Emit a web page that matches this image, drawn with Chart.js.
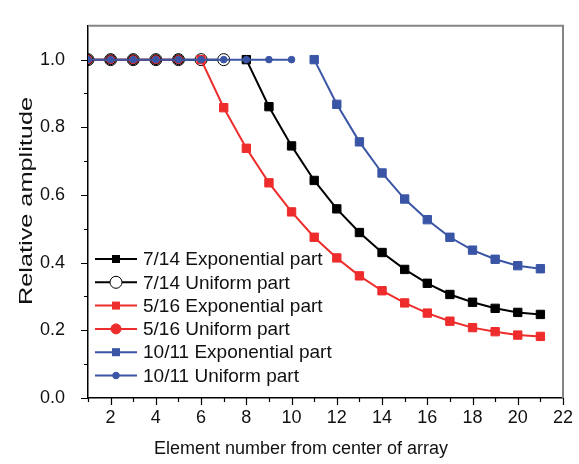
<!DOCTYPE html>
<html>
<head>
<meta charset="utf-8">
<script src="https://cdn.jsdelivr.net/npm/chart.js@4/dist/chart.umd.min.js"></script>
<style>
  body { margin: 0; background: #fff; }
  #wrap { width: 579px; height: 464px; }
</style>
</head>
<body>
<div id="wrap"><canvas id="ampChart" width="579" height="464"></canvas></div>
<script>
// element index (x) and relative amplitude (y) for each series
const uniform714X = [1, 2, 3, 4, 5, 6, 7]
const uniform714Y = [1, 1, 1, 1, 1, 1, 1]
const exp714X = [8, 9, 10, 11, 12, 13, 14, 15, 16, 17, 18, 19, 20, 21]
const exp714Y = [1.0, 0.861, 0.745, 0.643, 0.559, 0.489, 0.430, 0.380, 0.339, 0.306, 0.283, 0.265, 0.253, 0.247]

const uniform516X = [1, 2, 3, 4, 5]
const uniform516Y = [1, 1, 1, 1, 1]
const exp516X = [6, 7, 8, 9, 10, 11, 12, 13, 14, 15, 16, 17, 18, 19, 20, 21]
const exp516Y = [1.0, 0.858, 0.738, 0.636, 0.550, 0.475, 0.414, 0.361, 0.317, 0.281, 0.251, 0.227, 0.208, 0.196, 0.186, 0.182]

const uniform1011X = [1, 2, 3, 4, 5, 6, 7, 8, 9, 10]
const uniform1011Y = [1, 1, 1, 1, 1, 1, 1, 1, 1, 1]
const exp1011X = [11, 12, 13, 14, 15, 16, 17, 18, 19, 20, 21]
const exp1011Y = [1.0, 0.868, 0.757, 0.665, 0.588, 0.527, 0.475, 0.437, 0.410, 0.391, 0.382]

const xTicks = [2, 4, 6, 8, 10, 12, 14, 16, 18, 20, 22]
const xMinorTicks = [1, 3, 5, 7, 9, 11, 13, 15, 17, 19, 21]
const yTicks = [0, 0.2, 0.4, 0.6, 0.8, 1.0]
const yMinorTicks = [0.1, 0.3, 0.5, 0.7, 0.9]

const xTitle = 'Element number from center of array'
const yTitle = 'Relative amplitude'

const RED = '#ee2c2c'
const BLUE = '#3a55a5'
const FONT = 'Liberation Sans, Arial, sans-serif'

const pts = (xs, ys) => xs.map((x, i) => ({ x: x, y: ys[i] }))

const series = [
  { label: '7/14 Exponential part', data: pts(exp714X, exp714Y), color: '#000', style: 'rect', radius: 5.9, fill: '#000', order: 4 },
  { label: '7/14 Uniform part', data: pts(uniform714X, uniform714Y), color: '#000', style: 'circle', radius: 6, fill: '#fff', order: 5 },
  { label: '5/16 Exponential part', data: pts(exp516X, exp516Y), color: RED, style: 'rect', radius: 5.9, fill: RED, order: 3 },
  { label: '5/16 Uniform part', data: pts(uniform516X, uniform516Y), color: RED, style: 'circle', radius: 5, fill: RED, order: 2 },
  { label: '10/11 Exponential part', data: pts(exp1011X, exp1011Y), color: BLUE, style: 'rect', radius: 5.9, fill: BLUE, order: 1 },
  { label: '10/11 Uniform part', data: pts(uniform1011X, uniform1011Y), color: BLUE, style: 'circle', radius: 3.3, fill: BLUE, order: 0 }
]

// ticks, frame, axis titles and in-plot legend
const decor = {
  id: 'decor',
  afterDatasetsDraw(chart) {
    const ctx = chart.ctx
    const x = chart.scales.x, y = chart.scales.y
    const a = chart.chartArea
    ctx.save()
    // grey top/right frame
    ctx.strokeStyle = '#858585'
    ctx.lineWidth = 2
    ctx.beginPath()
    ctx.moveTo(a.left, a.top)
    ctx.lineTo(a.right, a.top)
    ctx.lineTo(a.right, a.bottom)
    ctx.stroke()
    // tick marks
    ctx.strokeStyle = '#000'
    ctx.lineWidth = 1.2
    ctx.beginPath()
    xTicks.forEach(v => { const p = Math.round(x.getPixelForValue(v)) + 0.5; ctx.moveTo(p, a.bottom); ctx.lineTo(p, a.bottom + 7) })
    xMinorTicks.forEach(v => { const p = Math.round(x.getPixelForValue(v)) + 0.5; ctx.moveTo(p, a.bottom); ctx.lineTo(p, a.bottom + 4) })
    yTicks.forEach(v => { const p = Math.round(y.getPixelForValue(v)) + 0.5; ctx.moveTo(a.left, p); ctx.lineTo(a.left - 7, p) })
    yMinorTicks.forEach(v => { const p = Math.round(y.getPixelForValue(v)) + 0.5; ctx.moveTo(a.left, p); ctx.lineTo(a.left - 4, p) })
    ctx.stroke()

    // axis titles
    ctx.fillStyle = '#111'
    ctx.font = '18px ' + FONT
    ctx.textAlign = 'center'
    ctx.textBaseline = 'middle'
    ctx.fillText(xTitle, 301, 449)
    ctx.save()
    ctx.translate(27, 201)
    ctx.rotate(-Math.PI / 2)
    const stretch = 208 / ctx.measureText(yTitle).width
    ctx.scale(stretch, 1)
    ctx.fillText(yTitle, 0, 0)
    ctx.restore()

    // legend
    const lx = a.left + 7, ly = 259, step = 23.3
    ctx.font = '19px ' + FONT
    ctx.textAlign = 'left'
    series.forEach((s, i) => {
      const cy = ly + i * step
      ctx.strokeStyle = s.color
      ctx.lineWidth = 2
      ctx.beginPath()
      ctx.moveTo(lx, cy)
      ctx.lineTo(lx + 42, cy)
      ctx.stroke()
      const cx = lx + 21
      ctx.fillStyle = s.fill
      ctx.lineWidth = 1
      if (s.style === 'rect') {
        ctx.fillRect(cx - 4, cy - 4, 8, 8)
      } else {
        ctx.beginPath()
        ctx.arc(cx, cy, s.radius, 0, Math.PI * 2)
        ctx.fill()
        ctx.stroke()
      }
      ctx.fillStyle = '#111'
      ctx.fillText(s.label, lx + 48, cy + 1)
    })
    ctx.restore()
  }
}

const ctx = document.getElementById('ampChart').getContext('2d')
new Chart(ctx, {
  type: 'line',
  data: {
    datasets: series.map(s => ({
      label: s.label,
      data: s.data,
      order: s.order,
      borderColor: s.color,
      backgroundColor: s.fill,
      borderWidth: 2,
      pointStyle: s.style,
      pointRadius: s.radius,
      pointHoverRadius: s.radius,
      pointBackgroundColor: s.fill,
      pointBorderColor: s.style === 'circle' && s.fill !== BLUE ? '#000' : s.color,
      pointBorderWidth: 1,
      tension: 0,
      fill: false
    }))
  },
  options: {
    responsive: false,
    animation: false,
    layout: { padding: { top: 8, right: 16, left: 0, bottom: 0 } },
    plugins: {
      legend: { display: false },
      tooltip: { enabled: false }
    },
    scales: {
      x: {
        type: 'linear',
        min: 1,
        max: 22,
        afterBuildTicks: (scale) => { scale.ticks = xTicks.map(v => ({ value: v })) },
        afterFit: (scale) => { scale.height = 66 },
        grid: { display: false },
        border: { display: true, color: '#000', width: 1.5 },
        ticks: { color: '#111', padding: 1, font: { family: FONT, size: 18 }, maxRotation: 0 },
        title: { display: false }
      },
      y: {
        min: 0,
        max: 1.1,
        afterBuildTicks: (scale) => { scale.ticks = yTicks.map(v => ({ value: v })) },
        afterFit: (scale) => { scale.width = 88 },
        grid: { display: false },
        border: { display: true, color: '#000', width: 1.5 },
        ticks: { color: '#111', padding: 15, font: { family: FONT, size: 18 }, callback: (v) => v.toFixed(1) },
        title: { display: false }
      }
    }
  },
  plugins: [decor]
})
</script>
</body>
</html>
